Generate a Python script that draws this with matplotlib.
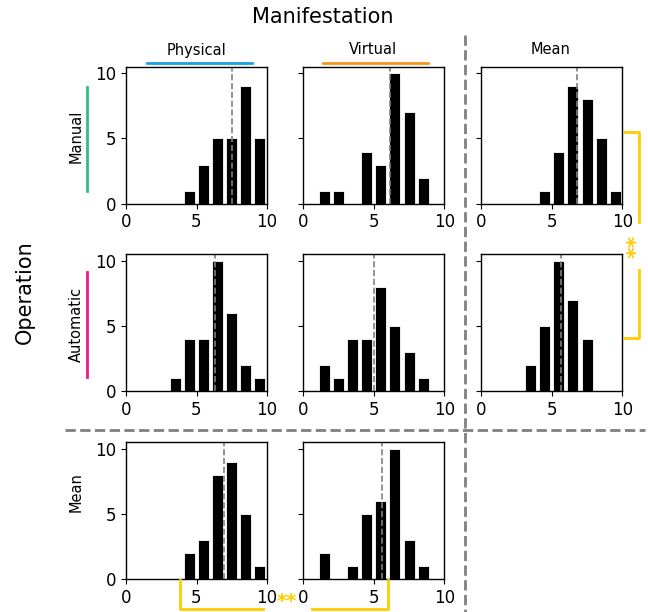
import numpy as np
import matplotlib
matplotlib.use('Agg')
import matplotlib.pyplot as plt
from matplotlib.lines import Line2D

# bin edges (ratings 0..10) and counts per bin
bins = np.arange(0, 11)

rows = ['Manual', 'Automatic', 'Mean']
cols = ['Physical', 'Virtual', 'Mean']

counts = {
    ('Manual', 'Physical'):    [0, 0, 0, 0, 1, 3, 5, 5, 9, 5],
    ('Manual', 'Virtual'):     [0, 1, 1, 0, 4, 3, 10, 7, 2, 0],
    ('Manual', 'Mean'):        [0, 0, 0, 0, 1, 4, 9, 8, 5, 1],
    ('Automatic', 'Physical'): [0, 0, 0, 1, 4, 4, 10, 6, 2, 1],
    ('Automatic', 'Virtual'):  [0, 2, 1, 4, 4, 8, 5, 3, 1, 0],
    ('Automatic', 'Mean'):     [0, 0, 0, 2, 5, 10, 7, 4, 0, 0],
    ('Mean', 'Physical'):      [0, 0, 0, 0, 2, 3, 8, 9, 5, 1],
    ('Mean', 'Virtual'):       [0, 2, 0, 1, 5, 6, 10, 3, 1, 0],
}

means = {
    ('Manual', 'Physical'): 7.5,
    ('Manual', 'Virtual'): 6.13,
    ('Manual', 'Mean'): 6.78,
    ('Automatic', 'Physical'): 6.33,
    ('Automatic', 'Virtual'): 5.02,
    ('Automatic', 'Mean'): 5.66,
    ('Mean', 'Physical'): 6.92,
    ('Mean', 'Virtual'): 5.57,
}

W, H = 648, 612
def fx(px): return px / W
def fy(py): return 1 - py / H

fig = plt.figure(figsize=(W / 100, H / 100), dpi=100)

col_left = [126, 303.3, 481.3]
row_top = [66.7, 254, 442.3]
ax_w, ax_h = 141, 137

for i, r in enumerate(rows):
    for j, c in enumerate(cols):
        if (r, c) not in counts:
            continue
        ax = fig.add_axes([fx(col_left[j]), fy(row_top[i] + ax_h), ax_w / W, ax_h / H])
        centers = bins[:-1] + 0.5
        ax.bar(centers, counts[(r, c)], width=0.78, color='black',
               edgecolor='white', linewidth=0.6)
        ax.axvline(means[(r, c)], color='gray', ls='--', lw=1.2)
        ax.set_xlim(0, 10)
        ax.set_ylim(0, 10.5)
        ax.set_xticks([0, 5, 10])
        ax.set_yticks([0, 5, 10])
        ax.tick_params(labelsize=12)
        if j > 0:
            ax.set_yticklabels([])
        for s in ax.spines.values():
            s.set_linewidth(1.0)

def fig_line(xs, ys, **kw):
    fig.add_artist(Line2D([fx(x) for x in xs], [fy(y) for y in ys],
                          transform=fig.transFigure, **kw))

# titles
fig.text(fx(323), fy(17), 'Manifestation', ha='center', va='center', fontsize=15)
fig.text(fx(25), fy(292), 'Operation', ha='center', va='center', fontsize=15, rotation=90)

# column headers
fig.text(fx(196), fy(50), 'Physical', ha='center', va='center', fontsize=10.5)
fig.text(fx(373), fy(50), 'Virtual', ha='center', va='center', fontsize=10.5)
fig.text(fx(551), fy(50), 'Mean', ha='center', va='center', fontsize=10.5)
fig_line([147, 252], [62.5, 62.5], color='#1ba1e2', lw=2)
fig_line([323, 428], [62.5, 62.5], color='#f7941d', lw=2)

# row headers
fig.text(fx(76), fy(136), 'Manual', ha='center', va='center', fontsize=10.5, rotation=90)
fig.text(fx(76), fy(324), 'Automatic', ha='center', va='center', fontsize=10.5, rotation=90)
fig.text(fx(76), fy(492), 'Mean', ha='center', va='center', fontsize=10.5, rotation=90)
fig_line([86.5, 86.5], [87, 191], color='#2fbf80', lw=2)
fig_line([86.5, 86.5], [272, 377], color='#ec1a8c', lw=2)

# separators
fig_line([465, 465], [35, 612], color='gray', ls='--', lw=2)
fig_line([65, 645], [430, 430], color='gray', ls='--', lw=2)

# significance brackets
gold = '#ffcc00'
fig_line([624, 638.5, 638.5], [132, 132, 222], color=gold, lw=2)
fig_line([638.5, 638.5, 624], [270, 338, 338], color=gold, lw=2)
fig.text(fx(637), fy(246), '**', ha='center', va='center', fontsize=16,
         fontweight='bold', color=gold, rotation=90)
fig_line([179.5, 179.5, 263], [580, 609, 609], color=gold, lw=2)
fig_line([312, 388, 388], [609, 609, 580], color=gold, lw=2)
fig.text(fx(287), fy(611.5), '**', ha='center', va='bottom', fontsize=14,
         fontweight='bold', color=gold)

fig.savefig('out.png', dpi=100)
